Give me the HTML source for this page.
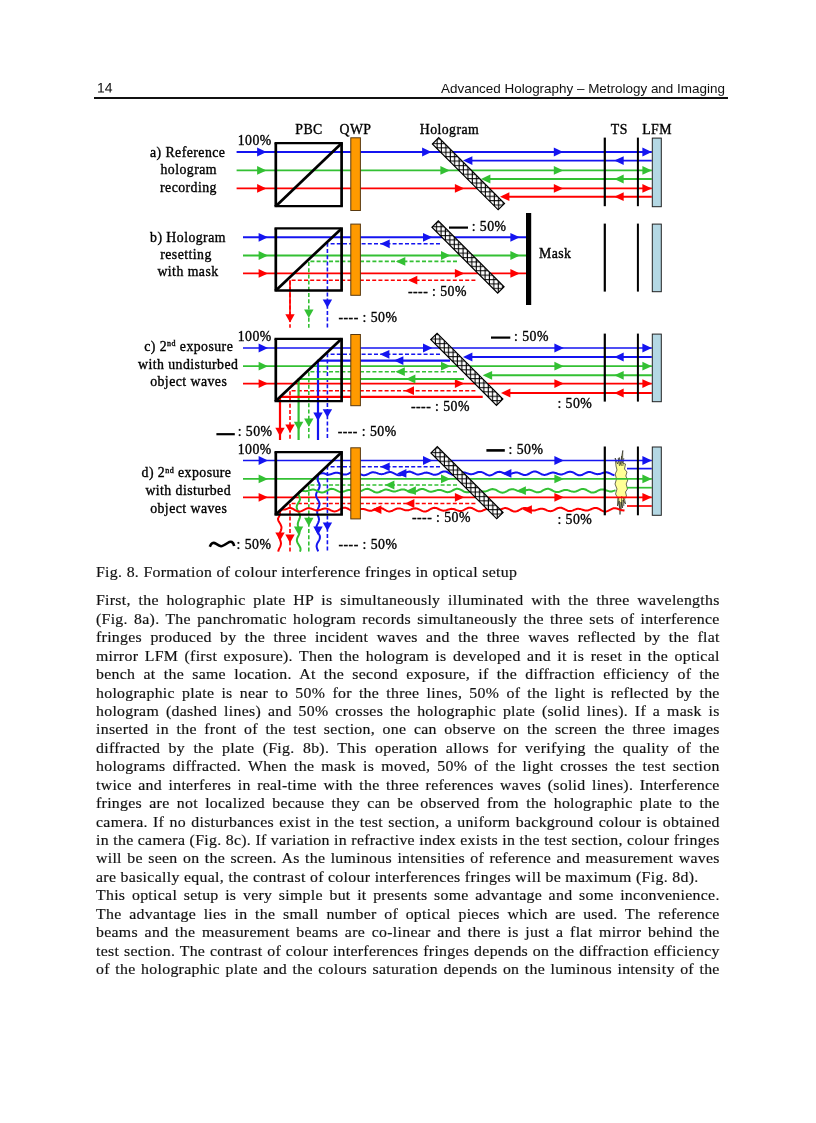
<!DOCTYPE html>
<html><head><meta charset="utf-8"><title>page 14</title>
<style>
html,body{margin:0;padding:0;background:#fff;}
body{width:816px;height:1123px;position:relative;overflow:hidden;font-family:"Liberation Serif",serif;color:#111;}
#cap,.ln{-webkit-text-stroke:0.18px #1a1a1a;}
.hd,#cap,.ln,#fig{will-change:transform;}
.hd{position:absolute;font-family:"Liberation Sans",sans-serif;font-size:13.45px;line-height:16px;color:#111;white-space:nowrap;}
#pn{left:96.5px;top:80.2px;font-size:27.8px;line-height:32px;transform:scale(0.5);transform-origin:0 0;}
#ht{right:91.5px;top:81.2px;}
#rule{position:absolute;left:93.6px;top:97.4px;width:634.4px;height:1.6px;background:#111;}
#fig{position:absolute;left:0;top:0;}
#fig text{font-family:"Liberation Serif",serif;fill:#000;stroke:#000;stroke-width:0.35px;letter-spacing:0.45px;}
#cap{position:absolute;left:96.0px;top:561.9px;font-size:14.4px;line-height:20px;white-space:nowrap;letter-spacing:0.29px;transform:scaleX(1.1);transform-origin:0 0;}
.ln{position:absolute;left:96.0px;width:567.0px;font-size:14.4px;line-height:20px;height:20px;white-space:nowrap;text-align:justify;text-align-last:justify;letter-spacing:0.27px;transform:scaleX(1.1);transform-origin:0 0;}
.last{text-align:left;text-align-last:left;}
</style></head><body>
<div class="hd" id="pn">14</div>
<div class="hd" id="ht">Advanced Holography – Metrology and Imaging</div>
<div id="rule"></div>
<svg id="fig" width="816" height="560" viewBox="0 0 816 560">
<defs><pattern id="hatch" width="4.4" height="4.4" patternUnits="userSpaceOnUse" patternTransform="rotate(45)"><rect width="4.4" height="4.4" fill="#fff"/><path d="M0,0.6 H4.4 M0.6,0 V4.4" stroke="#000" stroke-width="1.0"/></pattern></defs>
<line x1="236.6" y1="152.0" x2="651.8" y2="152.0" stroke="#1414f0" stroke-width="1.9"/>
<polygon points="266.5,152.0 257.1,147.6 257.1,156.4" fill="#1414f0"/>
<polygon points="563.2,152.0 553.8,147.6 553.8,156.4" fill="#1414f0"/>
<polygon points="651.8,152.0 642.4,147.6 642.4,156.4" fill="#1414f0"/>
<line x1="236.6" y1="170.4" x2="651.8" y2="170.4" stroke="#33c033" stroke-width="1.9"/>
<polygon points="266.5,170.4 257.1,166.0 257.1,174.8" fill="#33c033"/>
<polygon points="563.2,170.4 553.8,166.0 553.8,174.8" fill="#33c033"/>
<polygon points="651.8,170.4 642.4,166.0 642.4,174.8" fill="#33c033"/>
<line x1="236.6" y1="188.4" x2="651.8" y2="188.4" stroke="#ff0000" stroke-width="1.9"/>
<polygon points="266.5,188.4 257.1,184.0 257.1,192.8" fill="#ff0000"/>
<polygon points="563.2,188.4 553.8,184.0 553.8,192.8" fill="#ff0000"/>
<polygon points="651.8,188.4 642.4,184.0 642.4,192.8" fill="#ff0000"/>
<polygon points="431.5,152.0 422.1,147.6 422.1,156.4" fill="#1414f0"/>
<polygon points="449.8,170.4 440.4,166.0 440.4,174.8" fill="#33c033"/>
<polygon points="464.3,188.4 454.9,184.0 454.9,192.8" fill="#ff0000"/>
<line x1="466.0" y1="160.6" x2="651.8" y2="160.6" stroke="#1414f0" stroke-width="1.9"/>
<polygon points="463.0,160.6 472.4,156.2 472.4,165.0" fill="#1414f0"/>
<polygon points="614.3,160.6 623.7,156.2 623.7,165.0" fill="#1414f0"/>
<line x1="484.0" y1="179.0" x2="651.8" y2="179.0" stroke="#33c033" stroke-width="1.9"/>
<polygon points="481.0,179.0 490.4,174.6 490.4,183.4" fill="#33c033"/>
<polygon points="614.3,179.0 623.7,174.6 623.7,183.4" fill="#33c033"/>
<line x1="503.0" y1="196.7" x2="651.8" y2="196.7" stroke="#ff0000" stroke-width="1.9"/>
<polygon points="500.0,196.7 509.4,192.3 509.4,201.1" fill="#ff0000"/>
<polygon points="614.3,196.7 623.7,192.3 623.7,201.1" fill="#ff0000"/>
<line x1="274.5" y1="143.2" x2="342.9" y2="143.2" stroke="#000" stroke-width="2.3"/>
<line x1="274.5" y1="206.2" x2="342.9" y2="206.2" stroke="#000" stroke-width="2.3"/>
<line x1="275.8" y1="143.2" x2="275.8" y2="206.2" stroke="#000" stroke-width="2.7"/>
<line x1="341.6" y1="143.2" x2="341.6" y2="206.2" stroke="#000" stroke-width="2.7"/>
<line x1="275.8" y1="206.2" x2="341.6" y2="143.2" stroke="#000" stroke-width="2.7"/>
<rect x="350.8" y="137.8" width="9.6" height="72.7" fill="#ff9a00" stroke="#5a3a10" stroke-width="1"/>
<g transform="translate(468.45,173.7) rotate(45)"><rect x="-46.5" y="-4.5" width="93" height="9" fill="url(#hatch)" stroke="#000" stroke-width="1.2"/></g>
<line x1="604.8" y1="137.6" x2="604.8" y2="206.2" stroke="#000" stroke-width="2.2"/>
<line x1="637.9" y1="137.6" x2="637.9" y2="206.2" stroke="#000" stroke-width="2.0"/>
<rect x="652.3" y="138.1" width="9.0" height="68.6" fill="#b4d8e4" stroke="#222" stroke-width="1"/>
<text x="237.7" y="145.2" text-anchor="start" font-size="13.8">100%</text>
<text x="309.0" y="134.0" text-anchor="middle" font-size="13.8">PBC</text>
<text x="355.5" y="134.0" text-anchor="middle" font-size="13.8">QWP</text>
<text x="449.5" y="134.0" text-anchor="middle" font-size="13.8">Hologram</text>
<text x="619.3" y="134.0" text-anchor="middle" font-size="13.8">TS</text>
<text x="657.0" y="134.0" text-anchor="middle" font-size="13.8">LFM</text>
<text x="187.7" y="157.3" text-anchor="middle" font-size="13.8">a) Reference</text>
<text x="188.7" y="173.9" text-anchor="middle" font-size="13.8">hologram</text>
<text x="188.5" y="191.5" text-anchor="middle" font-size="13.8">recording</text>
<line x1="243.0" y1="237.3" x2="526.5" y2="237.3" stroke="#1414f0" stroke-width="1.9"/>
<polygon points="268.0,237.3 258.6,232.9 258.6,241.7" fill="#1414f0"/>
<polygon points="519.8,237.3 510.4,232.9 510.4,241.7" fill="#1414f0"/>
<line x1="243.0" y1="255.5" x2="526.5" y2="255.5" stroke="#33c033" stroke-width="1.9"/>
<polygon points="268.0,255.5 258.6,251.1 258.6,259.9" fill="#33c033"/>
<polygon points="519.8,255.5 510.4,251.1 510.4,259.9" fill="#33c033"/>
<line x1="243.0" y1="273.4" x2="526.5" y2="273.4" stroke="#ff0000" stroke-width="1.9"/>
<polygon points="268.0,273.4 258.6,269.0 258.6,277.8" fill="#ff0000"/>
<polygon points="519.8,273.4 510.4,269.0 510.4,277.8" fill="#ff0000"/>
<polygon points="432.4,237.3 423.0,232.9 423.0,241.7" fill="#1414f0"/>
<polygon points="450.4,255.5 441.0,251.1 441.0,259.9" fill="#33c033"/>
<polygon points="464.3,273.4 454.9,269.0 454.9,277.8" fill="#ff0000"/>
<path d="M440.0,243.8 L327.4,243.8 L327.4,327.8" stroke="#1414f0" stroke-width="1.6" fill="none" stroke-dasharray="4 2.2" stroke-linejoin="round"/>
<polygon points="380.3,243.8 389.7,239.4 389.7,248.2" fill="#1414f0"/>
<polygon points="327.4,307.8 322.7,299.4 332.1,299.4" fill="#1414f0"/>
<path d="M457.0,261.4 L308.8,261.4 L308.8,327.8" stroke="#33c033" stroke-width="1.6" fill="none" stroke-dasharray="4 2.2" stroke-linejoin="round"/>
<polygon points="395.9,261.4 405.3,257.0 405.3,265.8" fill="#33c033"/>
<polygon points="308.8,318.0 304.1,309.6 313.5,309.6" fill="#33c033"/>
<path d="M475.4,280.2 L290.0,280.2 L290.0,327.8" stroke="#ff0000" stroke-width="1.6" fill="none" stroke-dasharray="4 2.2" stroke-linejoin="round"/>
<line x1="290.0" y1="280.2" x2="290.0" y2="315.0" stroke="#ff0000" stroke-width="1.6"/>
<polygon points="407.9,280.2 417.3,275.8 417.3,284.6" fill="#ff0000"/>
<polygon points="290.0,322.6 285.3,314.2 294.7,314.2" fill="#ff0000"/>
<line x1="274.5" y1="228.4" x2="342.9" y2="228.4" stroke="#000" stroke-width="2.3"/>
<line x1="274.5" y1="290.5" x2="342.9" y2="290.5" stroke="#000" stroke-width="2.3"/>
<line x1="275.8" y1="228.4" x2="275.8" y2="290.5" stroke="#000" stroke-width="2.7"/>
<line x1="341.6" y1="228.4" x2="341.6" y2="290.5" stroke="#000" stroke-width="2.7"/>
<line x1="275.8" y1="290.5" x2="341.6" y2="228.4" stroke="#000" stroke-width="2.7"/>
<rect x="350.8" y="224.1" width="9.6" height="71.2" fill="#ff9a00" stroke="#5a3a10" stroke-width="1"/>
<g transform="translate(468.0,257.0) rotate(45)"><rect x="-46.5" y="-4.5" width="93" height="9" fill="url(#hatch)" stroke="#000" stroke-width="1.2"/></g>
<line x1="604.8" y1="223.6" x2="604.8" y2="291.6" stroke="#000" stroke-width="2.2"/>
<line x1="637.9" y1="223.6" x2="637.9" y2="291.6" stroke="#000" stroke-width="2.0"/>
<rect x="652.3" y="224.1" width="9.0" height="67.6" fill="#b4d8e4" stroke="#222" stroke-width="1"/>
<rect x="526.0" y="213.0" width="5.2" height="92" fill="#000"/>
<text x="539.0" y="258.0" text-anchor="start" font-size="13.8">Mask</text>
<line x1="449.0" y1="227.6" x2="468.0" y2="227.6" stroke="#000" stroke-width="2.2"/>
<text x="471.7" y="231.2" text-anchor="start" font-size="13.8">: 50%</text>
<text x="408.0" y="296.0" text-anchor="start" font-size="13.8">---- : 50%</text>
<text x="338.5" y="322.4" text-anchor="start" font-size="13.8">---- : 50%</text>
<text x="188.0" y="241.6" text-anchor="middle" font-size="13.8">b) Hologram</text>
<text x="186.0" y="258.9" text-anchor="middle" font-size="13.8">resetting</text>
<text x="188.0" y="275.8" text-anchor="middle" font-size="13.8">with mask</text>
<line x1="243.0" y1="348.0" x2="651.8" y2="348.0" stroke="#1414f0" stroke-width="1.7"/>
<polygon points="268.0,348.0 258.6,343.6 258.6,352.4" fill="#1414f0"/>
<polygon points="563.8,348.0 554.4,343.6 554.4,352.4" fill="#1414f0"/>
<polygon points="651.8,348.0 642.4,343.6 642.4,352.4" fill="#1414f0"/>
<line x1="243.0" y1="366.2" x2="651.8" y2="366.2" stroke="#33c033" stroke-width="1.7"/>
<polygon points="268.0,366.2 258.6,361.8 258.6,370.6" fill="#33c033"/>
<polygon points="563.8,366.2 554.4,361.8 554.4,370.6" fill="#33c033"/>
<polygon points="651.8,366.2 642.4,361.8 642.4,370.6" fill="#33c033"/>
<line x1="243.0" y1="383.6" x2="651.8" y2="383.6" stroke="#ff0000" stroke-width="1.7"/>
<polygon points="268.0,383.6 258.6,379.2 258.6,388.0" fill="#ff0000"/>
<polygon points="563.8,383.6 554.4,379.2 554.4,388.0" fill="#ff0000"/>
<polygon points="651.8,383.6 642.4,379.2 642.4,388.0" fill="#ff0000"/>
<polygon points="432.4,348.0 423.0,343.6 423.0,352.4" fill="#1414f0"/>
<polygon points="450.4,366.2 441.0,361.8 441.0,370.6" fill="#33c033"/>
<polygon points="464.3,383.6 454.9,379.2 454.9,388.0" fill="#ff0000"/>
<path d="M440.0,354.3 L327.4,354.3 L327.4,440" stroke="#1414f0" stroke-width="1.6" fill="none" stroke-dasharray="4 2.2" stroke-linejoin="round"/>
<polygon points="380.0,354.3 389.4,349.9 389.4,358.7" fill="#1414f0"/>
<polygon points="327.4,417.6 322.7,409.2 332.1,409.2" fill="#1414f0"/>
<path d="M457.0,371.7 L308.8,371.7 L308.8,440" stroke="#33c033" stroke-width="1.6" fill="none" stroke-dasharray="4 2.2" stroke-linejoin="round"/>
<polygon points="395.4,371.7 404.8,367.3 404.8,376.1" fill="#33c033"/>
<polygon points="308.8,426.8 304.1,418.4 313.5,418.4" fill="#33c033"/>
<path d="M475.4,390.7 L290.0,390.7 L290.0,440" stroke="#ff0000" stroke-width="1.6" fill="none" stroke-dasharray="4 2.2" stroke-linejoin="round"/>
<polygon points="404.6,390.7 414.0,386.3 414.0,395.1" fill="#ff0000"/>
<polygon points="290.0,432.8 285.3,424.4 294.7,424.4" fill="#ff0000"/>
<path d="M450.0,360.6 L318.0,360.6 L318.0,440" stroke="#1414f0" stroke-width="2.2" fill="none" stroke-linejoin="round"/>
<polygon points="394.0,360.6 403.4,356.2 403.4,365.0" fill="#1414f0"/>
<polygon points="318.0,421.0 313.3,412.6 322.7,412.6" fill="#1414f0"/>
<line x1="466.0" y1="357.0" x2="651.8" y2="357.0" stroke="#1414f0" stroke-width="1.9"/>
<polygon points="463.0,357.0 472.4,352.6 472.4,361.4" fill="#1414f0"/>
<polygon points="614.3,357.0 623.7,352.6 623.7,361.4" fill="#1414f0"/>
<path d="M464.0,379.0 L298.6,379.0 L298.6,440" stroke="#33c033" stroke-width="2.2" fill="none" stroke-linejoin="round"/>
<polygon points="406.0,379.0 415.4,374.6 415.4,383.4" fill="#33c033"/>
<polygon points="298.6,430.2 293.9,421.8 303.3,421.8" fill="#33c033"/>
<line x1="485.7" y1="375.3" x2="651.8" y2="375.3" stroke="#33c033" stroke-width="1.9"/>
<polygon points="482.7,375.3 492.1,370.9 492.1,379.7" fill="#33c033"/>
<polygon points="614.3,375.3 623.7,370.9 623.7,379.7" fill="#33c033"/>
<path d="M482.7,396.8 L280.0,396.8 L280.0,440" stroke="#ff0000" stroke-width="2.2" fill="none" stroke-linejoin="round"/>
<polygon points="280.0,436.2 275.3,427.8 284.7,427.8" fill="#ff0000"/>
<line x1="504.0" y1="393.0" x2="651.8" y2="393.0" stroke="#ff0000" stroke-width="1.9"/>
<polygon points="501.0,393.0 510.4,388.6 510.4,397.4" fill="#ff0000"/>
<polygon points="614.3,393.0 623.7,388.6 623.7,397.4" fill="#ff0000"/>
<line x1="274.5" y1="338.8" x2="342.9" y2="338.8" stroke="#000" stroke-width="2.3"/>
<line x1="274.5" y1="401.1" x2="342.9" y2="401.1" stroke="#000" stroke-width="2.3"/>
<line x1="275.8" y1="338.8" x2="275.8" y2="401.1" stroke="#000" stroke-width="2.7"/>
<line x1="341.6" y1="338.8" x2="341.6" y2="401.1" stroke="#000" stroke-width="2.7"/>
<line x1="275.8" y1="401.1" x2="341.6" y2="338.8" stroke="#000" stroke-width="2.7"/>
<rect x="350.8" y="334.5" width="9.6" height="71.2" fill="#ff9a00" stroke="#5a3a10" stroke-width="1"/>
<g transform="translate(466.8,369.3) rotate(45)"><rect x="-46.5" y="-4.5" width="93" height="9" fill="url(#hatch)" stroke="#000" stroke-width="1.2"/></g>
<line x1="604.8" y1="333.6" x2="604.8" y2="401.6" stroke="#000" stroke-width="2.2"/>
<line x1="637.9" y1="333.6" x2="637.9" y2="401.6" stroke="#000" stroke-width="2.0"/>
<rect x="652.3" y="334.1" width="9.0" height="67.6" fill="#b4d8e4" stroke="#222" stroke-width="1"/>
<text x="237.7" y="341.0" text-anchor="start" font-size="13.8">100%</text>
<line x1="491.0" y1="337.6" x2="510.3" y2="337.6" stroke="#000" stroke-width="2.2"/>
<text x="514.0" y="341.4" text-anchor="start" font-size="13.8">: 50%</text>
<text x="411.0" y="411.3" text-anchor="start" font-size="13.8">---- : 50%</text>
<text x="557.4" y="408.2" text-anchor="start" font-size="13.8">: 50%</text>
<line x1="216.4" y1="434.2" x2="234.8" y2="434.2" stroke="#000" stroke-width="2.2"/>
<text x="237.7" y="436.2" text-anchor="start" font-size="13.8">: 50%</text>
<text x="337.7" y="436.2" text-anchor="start" font-size="13.8">---- : 50%</text>
<text x="188.7" y="350.5" text-anchor="middle" font-size="13.8">c) 2<tspan font-size="8" dy="-4.5">nd</tspan><tspan dy="4.5"> exposure</tspan></text>
<text x="188.2" y="368.5" text-anchor="middle" font-size="13.8">with undisturbed</text>
<text x="188.7" y="386.4" text-anchor="middle" font-size="13.8">object waves</text>
<path d="M616,466 L615.2,458 L617.5,464 L619.3,457.5 L620.3,464.5 L622.8,450.5 L622.5,463 L625.5,464 L624.5,469 L627,472 L625.8,476 L627.8,480 L626.2,484 L627.5,489 L625.5,492 L626.5,496 L624.5,499 L625.5,504 L623,500 L622.5,508 L621,502 L620,514.5 L619.2,501 L617.5,506 L617.8,498 L615.5,494 L617,489 L615,484 L616.5,479 L615.2,474 L617,470 Z" fill="#ffff96" stroke="#2a2a20" stroke-width="0.7" stroke-linejoin="miter"/>
<path d="M618.2,458 L619.5,466 M621.5,456 L621.2,466 M623.8,458 L622.8,466 M618.5,497 L619.5,509 M621.8,496 L621.2,510 M623.5,497 L623.8,506" stroke="#2a2a20" stroke-width="0.7" fill="none"/>
<line x1="243.0" y1="460.5" x2="651.8" y2="460.5" stroke="#1414f0" stroke-width="1.7"/>
<polygon points="268.0,460.5 258.6,456.1 258.6,464.9" fill="#1414f0"/>
<polygon points="563.8,460.5 554.4,456.1 554.4,464.9" fill="#1414f0"/>
<polygon points="651.8,460.5 642.4,456.1 642.4,464.9" fill="#1414f0"/>
<line x1="243.0" y1="478.9" x2="651.8" y2="478.9" stroke="#33c033" stroke-width="1.7"/>
<polygon points="268.0,478.9 258.6,474.5 258.6,483.3" fill="#33c033"/>
<polygon points="563.8,478.9 554.4,474.5 554.4,483.3" fill="#33c033"/>
<polygon points="651.8,478.9 642.4,474.5 642.4,483.3" fill="#33c033"/>
<line x1="243.0" y1="497.3" x2="651.8" y2="497.3" stroke="#ff0000" stroke-width="1.7"/>
<polygon points="268.0,497.3 258.6,492.9 258.6,501.7" fill="#ff0000"/>
<polygon points="563.8,497.3 554.4,492.9 554.4,501.7" fill="#ff0000"/>
<polygon points="651.8,497.3 642.4,492.9 642.4,501.7" fill="#ff0000"/>
<polygon points="432.4,460.5 423.0,456.1 423.0,464.9" fill="#1414f0"/>
<polygon points="450.4,478.9 441.0,474.5 441.0,483.3" fill="#33c033"/>
<polygon points="464.3,497.3 454.9,492.9 454.9,501.7" fill="#ff0000"/>
<path d="M440.0,466.8 L327.4,466.8 L327.4,552" stroke="#1414f0" stroke-width="1.6" fill="none" stroke-dasharray="4 2.2" stroke-linejoin="round"/>
<polygon points="380.3,466.8 389.7,462.4 389.7,471.2" fill="#1414f0"/>
<polygon points="327.4,530.8 322.7,522.4 332.1,522.4" fill="#1414f0"/>
<path d="M457.0,485.0 L308.8,485.0 L308.8,552" stroke="#33c033" stroke-width="1.6" fill="none" stroke-dasharray="4 2.2" stroke-linejoin="round"/>
<polygon points="385.0,485.0 394.4,480.6 394.4,489.4" fill="#33c033"/>
<polygon points="308.8,526.2 304.1,517.8 313.5,517.8" fill="#33c033"/>
<path d="M475.4,503.5 L290.0,503.5 L290.0,552" stroke="#ff0000" stroke-width="1.6" fill="none" stroke-dasharray="4 2.2" stroke-linejoin="round"/>
<polygon points="405.0,503.5 414.4,499.1 414.4,507.9" fill="#ff0000"/>
<polygon points="290.0,543.0 285.3,534.6 294.7,534.6" fill="#ff0000"/>
<path d="M614.5,475.2 L613.5,475.0 L612.5,474.6 L611.5,474.2 L610.5,473.7 L609.5,473.2 L608.5,472.8 L607.5,472.5 L606.5,472.3 L605.5,472.3 L604.5,472.4 L603.5,472.7 L602.5,473.0 L601.5,473.4 L600.5,473.7 L599.5,474.0 L598.5,474.1 L597.5,474.2 L596.5,474.0 L595.5,473.8 L594.5,473.5 L593.5,473.1 L592.5,472.7 L591.5,472.4 L590.5,472.1 L589.5,472.0 L588.5,472.1 L587.5,472.3 L586.5,472.7 L585.5,473.2 L584.5,473.7 L583.5,474.2 L582.5,474.7 L581.5,475.1 L580.5,475.3 L579.5,475.3 L578.5,475.2 L577.5,474.8 L576.5,474.4 L575.5,473.8 L574.5,473.2 L573.5,472.7 L572.5,472.2 L571.5,471.9 L570.5,471.7 L569.5,471.7 L568.5,471.9 L567.5,472.2 L566.5,472.6 L565.5,473.1 L564.5,473.6 L563.5,473.9 L562.5,474.2 L561.5,474.4 L560.5,474.4 L559.5,474.2 L558.5,474.0 L557.5,473.7 L556.5,473.3 L555.5,473.0 L554.5,472.8 L553.5,472.6 L552.5,472.6 L551.5,472.8 L550.5,473.0 L549.5,473.4 L548.5,473.8 L547.5,474.2 L546.5,474.5 L545.5,474.8 L544.5,474.9 L543.5,474.8 L542.5,474.6 L541.5,474.2 L540.5,473.7 L539.5,473.2 L538.5,472.6 L537.5,472.1 L536.5,471.7 L535.5,471.5 L534.5,471.5 L533.5,471.6 L532.5,471.9 L531.5,472.4 L530.5,472.9 L529.5,473.5 L528.5,474.0 L527.5,474.5 L526.5,474.8 L525.5,475.0 L524.5,475.0 L523.5,474.9 L522.5,474.5 L521.5,474.1 L520.5,473.7 L519.5,473.3 L518.5,472.9 L517.5,472.6 L516.5,472.5 L515.5,472.5 L514.5,472.7 L513.5,472.9 L512.5,473.2 L511.5,473.6 L510.5,473.9 L509.5,474.1 L508.5,474.3 L507.5,474.2 L506.5,474.1 L505.5,473.8 L504.5,473.4 L503.5,473.0 L502.5,472.6 L501.5,472.2 L500.5,471.9 L499.5,471.8 L498.5,471.9 L497.5,472.1 L496.5,472.5 L495.5,473.0 L494.5,473.5 L493.5,474.1 L492.5,474.6 L491.5,475.0 L490.5,475.3 L489.5,475.4 L488.5,475.2 L487.5,474.9 L486.5,474.5 L485.5,474.0 L484.5,473.4 L483.5,472.9 L482.5,472.4 L481.5,472.1 L480.5,471.9 L479.5,471.9 L478.5,472.0 L477.5,472.3 L476.5,472.7 L475.5,473.1 L474.5,473.5 L473.5,473.9 L472.5,474.1 L471.5,474.2 L470.5,474.2 L469.5,474.0 L468.5,473.8 L467.5,473.4 L466.5,473.1 L465.5,472.8 L464.5,472.6 L463.5,472.5 L462.5,472.5 L461.5,472.7 L460.5,473.0 L459.5,473.4 L458.5,473.8 L457.5,474.3 L456.5,474.7 L455.5,474.9 L454.5,475.1 L453.5,475.0 L452.5,474.8 L451.5,474.4 L450.5,473.9 L449.5,473.4 L448.5,472.8 L447.5,472.2 L446.5,471.8 L445.5,471.6 L444.5,471.5 L443.5,471.5 L442.5,471.8 L441.5,472.2 L440.5,472.7 L439.5,473.3 L438.5,473.8 L437.5,474.3 L436.5,474.6 L435.5,474.8 L434.5,474.8 L433.5,474.7 L432.5,474.4 L431.5,474.0 L430.5,473.6 L429.5,473.3 L428.5,472.9 L427.5,472.7 L426.5,472.6 L425.5,472.7 L424.5,472.8 L423.5,473.1 L422.5,473.5 L421.5,473.8 L420.5,474.1 L419.5,474.3 L418.5,474.4 L417.5,474.4 L416.5,474.2 L415.5,473.9 L414.5,473.4 L413.5,473.0 L412.5,472.5 L411.5,472.1 L410.5,471.8 L409.5,471.6 L408.5,471.7 L407.5,471.9 L406.5,472.3 L405.5,472.8 L404.5,473.3 L403.5,473.9 L402.5,474.5 L401.5,474.9 L400.5,475.2 L399.5,475.3 L398.5,475.2 L397.5,475.0 L396.5,474.6 L395.5,474.1 L394.5,473.6 L393.5,473.1 L392.5,472.6 L391.5,472.3 L390.5,472.1 L389.5,472.1 L388.5,472.2 L387.5,472.5 L386.5,472.8 L385.5,473.2 L384.5,473.6 L383.5,473.9 L382.5,474.1 L381.5,474.2 L380.5,474.1 L379.5,473.9 L378.5,473.6 L377.5,473.2 L376.5,472.9 L375.5,472.6 L374.5,472.4 L373.5,472.3 L372.5,472.3 L371.5,472.5 L370.5,472.9 L369.5,473.3 L368.5,473.8 L367.5,474.3 L366.5,474.7 L365.5,475.1 L364.5,475.2 L363.5,475.2 L362.5,475.0 L361.5,474.6 L360.5,474.2 L359.5,473.6 L358.5,473.0 L357.5,472.4 L356.5,472.0 L355.5,471.7 L354.5,471.5 L353.5,471.6 L352.5,471.8 L351.5,472.2 L350.5,472.6 L349.5,473.2 L348.5,473.7 L347.5,474.1 L346.5,474.4 L345.5,474.6 L344.5,474.6 L343.5,474.5 L342.5,474.2 L341.5,473.9 L340.5,473.5 L339.5,473.2 L338.5,472.9 L337.5,472.7 L336.5,472.7 L335.5,472.8 L334.5,473.0 L333.5,473.3 L332.5,473.6 L331.5,474.0 L330.5,474.3 L329.5,474.6 L328.5,474.7 L327.5,474.6 L326.5,474.3 L325.5,473.9 L324.5,473.5 L323.5,473.2 L322.5,473.2 L321.5,473.3 L321.0,473.4 L320.2,473.5 L319.5,473.8 L318.9,474.3 L318.4,474.9 L318.1,475.6 L318.0,476.4 L317.8,477.4 L317.7,478.4 L317.7,479.4 L317.8,480.4 L318.1,481.4 L318.6,482.4 L319.1,483.4 L319.4,484.4 L319.6,485.4 L319.6,486.4 L319.4,487.4 L319.1,488.4 L318.6,489.4 L317.9,490.4 L317.3,491.4 L316.8,492.4 L316.3,493.4 L316.1,494.4 L316.1,495.4 L316.2,496.4 L316.6,497.4 L317.1,498.4 L317.7,499.4 L318.3,500.4 L318.8,501.4 L319.2,502.4 L319.4,503.4 L319.5,504.4 L319.3,505.4 L319.0,506.4 L318.6,507.4 L318.2,508.4 L317.8,509.4 L317.4,510.4 L317.2,511.4 L317.2,512.4 L317.3,513.4 L317.6,514.4 L317.9,515.4 L318.3,516.4 L318.6,517.4 L318.9,518.4 L319.0,519.4 L318.9,520.4 L318.7,521.4 L318.4,522.4 L317.9,523.4 L317.4,524.4 L316.9,525.4 L316.6,526.4 L316.3,527.4 L316.3,528.4 L316.4,529.4 L316.8,530.4 L317.3,531.4 L317.9,532.4 L318.5,533.4 L319.1,534.4 L319.6,535.4 L319.9,536.4 L319.9,537.4 L319.8,538.4 L319.5,539.4 L319.0,540.4 L318.4,541.4 L317.8,542.4 L317.3,543.4 L316.9,544.4 L316.7,545.4 L316.6,546.4 L316.8,547.4 L317.0,548.4 L317.4,549.4 L317.8,550.4 L318.2,551.4" stroke="#1414f0" stroke-width="2.0" fill="none" stroke-linejoin="round"/>
<polygon points="318.0,535.0 313.3,526.6 322.7,526.6" fill="#1414f0"/>
<polygon points="502.0,473.4 511.4,469.0 511.4,477.8" fill="#1414f0"/>
<polygon points="397.0,473.4 406.4,469.0 406.4,477.8" fill="#1414f0"/>
<line x1="627.0" y1="468.6" x2="651.8" y2="468.6" stroke="#1414f0" stroke-width="1.7"/>
<path d="M615.5,490.2 L614.5,490.6 L613.5,490.9 L612.5,491.2 L611.5,491.4 L610.5,491.5 L609.5,491.4 L608.5,491.1 L607.5,490.8 L606.5,490.5 L605.5,490.1 L604.5,489.7 L603.5,489.5 L602.5,489.4 L601.5,489.4 L600.5,489.6 L599.5,490.0 L598.5,490.4 L597.5,490.9 L596.5,491.5 L595.5,492.0 L594.5,492.3 L593.5,492.6 L592.5,492.6 L591.5,492.5 L590.5,492.2 L589.5,491.7 L588.5,491.2 L587.5,490.6 L586.5,490.0 L585.5,489.5 L584.5,489.2 L583.5,489.0 L582.5,489.0 L581.5,489.1 L580.5,489.4 L579.5,489.9 L578.5,490.3 L577.5,490.8 L576.5,491.2 L575.5,491.5 L574.5,491.7 L573.5,491.7 L572.5,491.6 L571.5,491.4 L570.5,491.1 L569.5,490.7 L568.5,490.4 L567.5,490.1 L566.5,489.9 L565.5,489.9 L564.5,490.0 L563.5,490.3 L562.5,490.6 L561.5,491.0 L560.5,491.4 L559.5,491.8 L558.5,492.0 L557.5,492.1 L556.5,492.1 L555.5,491.9 L554.5,491.5 L553.5,491.1 L552.5,490.5 L551.5,490.0 L550.5,489.5 L549.5,489.1 L548.5,488.8 L547.5,488.8 L546.5,488.9 L545.5,489.2 L544.5,489.6 L543.5,490.1 L542.5,490.7 L541.5,491.3 L540.5,491.8 L539.5,492.1 L538.5,492.3 L537.5,492.3 L536.5,492.2 L535.5,491.9 L534.5,491.5 L533.5,491.1 L532.5,490.6 L531.5,490.2 L530.5,490.0 L529.5,489.8 L528.5,489.8 L527.5,489.9 L526.5,490.1 L525.5,490.5 L524.5,490.8 L523.5,491.1 L522.5,491.4 L521.5,491.5 L520.5,491.5 L519.5,491.4 L518.5,491.1 L517.5,490.8 L516.5,490.4 L515.5,489.9 L514.5,489.6 L513.5,489.3 L512.5,489.2 L511.5,489.2 L510.5,489.4 L509.5,489.7 L508.5,490.2 L507.5,490.8 L506.5,491.3 L505.5,491.9 L504.5,492.3 L503.5,492.6 L502.5,492.7 L501.5,492.6 L500.5,492.3 L499.5,491.9 L498.5,491.4 L497.5,490.8 L496.5,490.2 L495.5,489.7 L494.5,489.4 L493.5,489.2 L492.5,489.1 L491.5,489.3 L490.5,489.5 L489.5,489.9 L488.5,490.3 L487.5,490.8 L486.5,491.1 L485.5,491.4 L484.5,491.5 L483.5,491.5 L482.5,491.4 L481.5,491.1 L480.5,490.8 L479.5,490.5 L478.5,490.2 L477.5,489.9 L476.5,489.8 L475.5,489.8 L474.5,490.0 L473.5,490.2 L472.5,490.6 L471.5,491.1 L470.5,491.5 L469.5,491.9 L468.5,492.2 L467.5,492.3 L466.5,492.3 L465.5,492.1 L464.5,491.8 L463.5,491.3 L462.5,490.7 L461.5,490.1 L460.5,489.6 L459.5,489.2 L458.5,488.9 L457.5,488.8 L456.5,488.8 L455.5,489.1 L454.5,489.5 L453.5,490.0 L452.5,490.5 L451.5,491.1 L450.5,491.5 L449.5,491.9 L448.5,492.1 L447.5,492.2 L446.5,492.0 L445.5,491.8 L444.5,491.4 L443.5,491.0 L442.5,490.6 L441.5,490.3 L440.5,490.0 L439.5,489.9 L438.5,489.9 L437.5,490.1 L436.5,490.4 L435.5,490.7 L434.5,491.0 L433.5,491.3 L432.5,491.6 L431.5,491.7 L430.5,491.7 L429.5,491.5 L428.5,491.2 L427.5,490.8 L426.5,490.3 L425.5,489.9 L424.5,489.5 L423.5,489.1 L422.5,489.0 L421.5,489.0 L420.5,489.2 L419.5,489.5 L418.5,490.0 L417.5,490.6 L416.5,491.2 L415.5,491.7 L414.5,492.2 L413.5,492.5 L412.5,492.6 L411.5,492.6 L410.5,492.3 L409.5,492.0 L408.5,491.5 L407.5,491.0 L406.5,490.4 L405.5,490.0 L404.5,489.6 L403.5,489.4 L402.5,489.4 L401.5,489.5 L400.5,489.7 L399.5,490.1 L398.5,490.4 L397.5,490.8 L396.5,491.1 L395.5,491.4 L394.5,491.5 L393.5,491.4 L392.5,491.2 L391.5,491.0 L390.5,490.6 L389.5,490.3 L388.5,489.9 L387.5,489.7 L386.5,489.6 L385.5,489.6 L384.5,489.8 L383.5,490.1 L382.5,490.6 L381.5,491.0 L380.5,491.5 L379.5,492.0 L378.5,492.3 L377.5,492.5 L376.5,492.5 L375.5,492.3 L374.5,492.0 L373.5,491.5 L372.5,490.9 L371.5,490.4 L370.5,489.8 L369.5,489.3 L368.5,489.0 L367.5,488.8 L366.5,488.9 L365.5,489.1 L364.5,489.4 L363.5,489.9 L362.5,490.4 L361.5,490.9 L360.5,491.3 L359.5,491.7 L358.5,491.9 L357.5,491.9 L356.5,491.8 L355.5,491.6 L354.5,491.3 L353.5,490.9 L352.5,490.5 L351.5,490.2 L350.5,490.0 L349.5,490.0 L348.5,490.0 L347.5,490.2 L346.5,490.5 L345.5,490.9 L344.5,491.2 L343.5,491.6 L342.5,491.8 L341.5,491.9 L340.5,491.9 L339.5,491.7 L338.5,491.4 L337.5,490.9 L336.5,490.4 L335.5,489.9 L334.5,489.4 L333.5,489.1 L332.5,488.9 L331.5,488.8 L330.5,489.0 L329.5,489.3 L328.5,489.8 L327.5,490.3 L326.5,490.9 L325.5,491.5 L324.5,492.0 L323.5,492.3 L322.5,492.5 L321.5,492.5 L320.5,492.3 L319.5,492.0 L318.5,491.5 L317.5,491.1 L316.5,490.6 L315.5,490.1 L314.5,489.8 L313.5,489.6 L312.5,489.6 L311.5,489.7 L310.5,489.9 L309.5,490.2 L308.5,490.6 L307.5,490.9 L306.5,491.1 L305.5,491.2 L304.5,491.1 L303.5,490.9 L302.5,490.8 L301.6,490.7 L300.8,490.8 L300.1,491.1 L299.5,491.6 L299.0,492.2 L298.7,492.9 L298.6,493.7 L298.7,494.7 L299.0,495.7 L299.3,496.7 L299.7,497.7 L299.9,498.7 L300.0,499.7 L299.6,500.7 L299.0,501.7 L298.4,502.7 L297.8,503.7 L297.3,504.7 L296.9,505.7 L296.7,506.7 L296.7,507.7 L296.9,508.7 L297.3,509.7 L297.9,510.7 L298.4,511.7 L299.0,512.7 L299.5,513.7 L299.9,514.7 L300.0,515.7 L300.0,516.7 L299.8,517.7 L299.5,518.7 L299.1,519.7 L298.6,520.7 L298.3,521.7 L298.0,522.7 L297.8,523.7 L297.8,524.7 L298.0,525.7 L298.3,526.7 L298.6,527.7 L299.0,528.7 L299.3,529.7 L299.6,530.7 L299.6,531.7 L299.5,532.7 L299.3,533.7 L298.9,534.7 L298.4,535.7 L297.9,536.7 L297.4,537.7 L297.1,538.7 L296.9,539.7 L296.9,540.7 L297.1,541.7 L297.5,542.7 L298.1,543.7 L298.7,544.7 L299.3,545.7 L299.8,546.7 L300.3,547.7 L300.5,548.7 L300.5,549.7 L300.3,550.7 L299.9,551.7" stroke="#33c033" stroke-width="2.0" fill="none" stroke-linejoin="round"/>
<polygon points="298.6,535.0 293.9,526.6 303.3,526.6" fill="#33c033"/>
<polygon points="516.5,490.7 525.9,486.3 525.9,495.1" fill="#33c033"/>
<polygon points="406.5,490.7 415.9,486.3 415.9,495.1" fill="#33c033"/>
<line x1="627.0" y1="487.7" x2="651.8" y2="487.7" stroke="#33c033" stroke-width="1.7"/>
<path d="M624.5,510.3 L623.5,510.4 L622.5,510.3 L621.5,510.2 L620.5,509.9 L619.5,509.5 L618.5,509.1 L617.5,508.7 L616.5,508.4 L615.5,508.2 L614.5,508.2 L613.5,508.3 L612.5,508.6 L611.5,509.1 L610.5,509.6 L609.5,510.1 L608.5,510.6 L607.5,511.1 L606.5,511.4 L605.5,511.5 L604.5,511.5 L603.5,511.3 L602.5,510.9 L601.5,510.4 L600.5,509.8 L599.5,509.2 L598.5,508.7 L597.5,508.3 L596.5,508.0 L595.5,507.9 L594.5,508.0 L593.5,508.2 L592.5,508.6 L591.5,509.0 L590.5,509.5 L589.5,509.9 L588.5,510.3 L587.5,510.5 L586.5,510.6 L585.5,510.5 L584.5,510.3 L583.5,510.0 L582.5,509.7 L581.5,509.4 L580.5,509.1 L579.5,508.9 L578.5,508.8 L577.5,508.8 L576.5,509.0 L575.5,509.4 L574.5,509.7 L573.5,510.2 L572.5,510.6 L571.5,510.9 L570.5,511.1 L569.5,511.1 L568.5,511.0 L567.5,510.7 L566.5,510.2 L565.5,509.7 L564.5,509.2 L563.5,508.6 L562.5,508.2 L561.5,507.8 L560.5,507.7 L559.5,507.7 L558.5,507.9 L557.5,508.3 L556.5,508.7 L555.5,509.3 L554.5,509.9 L553.5,510.4 L552.5,510.8 L551.5,511.1 L550.5,511.2 L549.5,511.1 L548.5,510.9 L547.5,510.6 L546.5,510.2 L545.5,509.7 L544.5,509.3 L543.5,509.0 L542.5,508.8 L541.5,508.7 L540.5,508.8 L539.5,509.0 L538.5,509.3 L537.5,509.6 L536.5,509.9 L535.5,510.2 L534.5,510.4 L533.5,510.5 L532.5,510.4 L531.5,510.2 L530.5,509.8 L529.5,509.4 L528.5,509.0 L527.5,508.6 L526.5,508.3 L525.5,508.0 L524.5,508.0 L523.5,508.1 L522.5,508.4 L521.5,508.8 L520.5,509.4 L519.5,509.9 L518.5,510.5 L517.5,511.0 L516.5,511.3 L515.5,511.5 L514.5,511.5 L513.5,511.4 L512.5,511.0 L511.5,510.5 L510.5,510.0 L509.5,509.4 L508.5,508.9 L507.5,508.5 L506.5,508.2 L505.5,508.1 L504.5,508.1 L503.5,508.4 L502.5,508.7 L501.5,509.1 L500.5,509.5 L499.5,509.9 L498.5,510.2 L497.5,510.4 L496.5,510.4 L495.5,510.3 L494.5,510.1 L493.5,509.8 L492.5,509.5 L491.5,509.1 L490.5,508.9 L489.5,508.7 L488.5,508.6 L487.5,508.7 L486.5,509.0 L485.5,509.3 L484.5,509.8 L483.5,510.2 L482.5,510.7 L481.5,511.0 L480.5,511.2 L479.5,511.3 L478.5,511.2 L477.5,510.9 L476.5,510.5 L475.5,509.9 L474.5,509.4 L473.5,508.8 L472.5,508.3 L471.5,507.9 L470.5,507.7 L469.5,507.7 L468.5,507.8 L467.5,508.2 L466.5,508.6 L465.5,509.1 L464.5,509.7 L463.5,510.2 L462.5,510.6 L461.5,510.9 L460.5,511.0 L459.5,511.0 L458.5,510.8 L457.5,510.4 L456.5,510.1 L455.5,509.7 L454.5,509.3 L453.5,509.0 L452.5,508.9 L451.5,508.8 L450.5,508.9 L449.5,509.2 L448.5,509.5 L447.5,509.8 L446.5,510.2 L445.5,510.4 L444.5,510.6 L443.5,510.7 L442.5,510.5 L441.5,510.3 L440.5,509.9 L439.5,509.5 L438.5,509.0 L437.5,508.5 L436.5,508.1 L435.5,507.9 L434.5,507.8 L433.5,507.9 L432.5,508.2 L431.5,508.6 L430.5,509.2 L429.5,509.7 L428.5,510.3 L427.5,510.8 L426.5,511.2 L425.5,511.5 L424.5,511.5 L423.5,511.4 L422.5,511.1 L421.5,510.6 L420.5,510.1 L419.5,509.6 L418.5,509.1 L417.5,508.7 L416.5,508.4 L415.5,508.3 L414.5,508.4 L413.5,508.5 L412.5,508.8 L411.5,509.2 L410.5,509.6 L409.5,509.9 L408.5,510.2 L407.5,510.3 L406.5,510.3 L405.5,510.2 L404.5,510.0 L403.5,509.6 L402.5,509.3 L401.5,508.9 L400.5,508.6 L399.5,508.5 L398.5,508.4 L397.5,508.6 L396.5,508.8 L395.5,509.2 L394.5,509.7 L393.5,510.2 L392.5,510.7 L391.5,511.1 L390.5,511.3 L389.5,511.4 L388.5,511.4 L387.5,511.1 L386.5,510.7 L385.5,510.2 L384.5,509.6 L383.5,509.0 L382.5,508.5 L381.5,508.1 L380.5,507.8 L379.5,507.7 L378.5,507.9 L377.5,508.1 L376.5,508.6 L375.5,509.0 L374.5,509.5 L373.5,510.0 L372.5,510.4 L371.5,510.7 L370.5,510.8 L369.5,510.7 L368.5,510.5 L367.5,510.3 L366.5,509.9 L365.5,509.5 L364.5,509.2 L363.5,509.0 L362.5,508.9 L361.5,508.9 L360.5,509.0 L359.5,509.3 L358.5,509.6 L357.5,510.0 L356.5,510.4 L355.5,510.7 L354.5,510.8 L353.5,510.9 L352.5,510.7 L351.5,510.5 L350.5,510.1 L349.5,509.6 L348.5,509.0 L347.5,508.5 L346.5,508.1 L345.5,507.8 L344.5,507.7 L343.5,507.8 L342.5,508.0 L341.5,508.4 L340.5,508.9 L339.5,509.5 L338.5,510.1 L337.5,510.6 L336.5,511.0 L335.5,511.3 L334.5,511.4 L333.5,511.3 L332.5,511.0 L331.5,510.6 L330.5,510.2 L329.5,509.7 L328.5,509.2 L327.5,508.9 L326.5,508.6 L325.5,508.5 L324.5,508.6 L323.5,508.8 L322.5,509.0 L321.5,509.4 L320.5,509.7 L319.5,510.0 L318.5,510.3 L317.5,510.4 L316.5,510.3 L315.5,510.2 L314.5,509.9 L313.5,509.5 L312.5,509.1 L311.5,508.7 L310.5,508.4 L309.5,508.2 L308.5,508.2 L307.5,508.3 L306.5,508.6 L305.5,509.1 L304.5,509.6 L303.5,510.1 L302.5,510.6 L301.5,511.1 L300.5,511.4 L299.5,511.5 L298.5,511.5 L297.5,511.3 L296.5,510.9 L295.5,510.4 L294.5,509.8 L293.5,509.2 L292.5,508.7 L291.5,508.3 L290.5,508.0 L289.5,507.9 L288.5,508.1 L287.5,508.6 L286.5,509.0 L285.5,509.4 L284.5,509.6 L283.5,509.6 L283.0,509.6 L282.2,509.7 L281.5,510.0 L280.9,510.5 L280.4,511.1 L280.1,511.8 L280.0,512.6 L280.0,513.6 L279.9,514.6 L279.5,515.6 L279.0,516.6 L278.5,517.6 L278.0,518.6 L278.1,519.6 L278.4,520.6 L278.8,521.6 L279.4,522.6 L280.0,523.6 L280.6,524.6 L281.0,525.6 L281.4,526.6 L281.5,527.6 L281.4,528.6 L281.2,529.6 L280.9,530.6 L280.4,531.6 L280.0,532.6 L279.6,533.6 L279.3,534.6 L279.2,535.6 L279.2,536.6 L279.4,537.6 L279.7,538.6 L280.1,539.6 L280.4,540.6 L280.7,541.6 L280.9,542.6 L281.0,543.6 L280.8,544.6 L280.6,545.6 L280.2,546.6 L279.7,547.6 L279.2,548.6 L278.8,549.6 L278.4,550.6 L278.3,551.6" stroke="#ff0000" stroke-width="2.0" fill="none" stroke-linejoin="round"/>
<polygon points="280.0,540.8 275.3,532.4 284.7,532.4" fill="#ff0000"/>
<polygon points="522.5,509.6 531.9,505.2 531.9,514.0" fill="#ff0000"/>
<polygon points="372.0,509.6 381.4,505.2 381.4,514.0" fill="#ff0000"/>
<line x1="627.0" y1="506.0" x2="651.8" y2="506.0" stroke="#ff0000" stroke-width="1.7"/>
<line x1="274.5" y1="452.2" x2="342.9" y2="452.2" stroke="#000" stroke-width="2.3"/>
<line x1="274.5" y1="514.6" x2="342.9" y2="514.6" stroke="#000" stroke-width="2.3"/>
<line x1="275.8" y1="452.2" x2="275.8" y2="514.6" stroke="#000" stroke-width="2.7"/>
<line x1="341.6" y1="452.2" x2="341.6" y2="514.6" stroke="#000" stroke-width="2.7"/>
<line x1="275.8" y1="514.6" x2="341.6" y2="452.2" stroke="#000" stroke-width="2.7"/>
<rect x="350.8" y="447.8" width="9.6" height="71.1" fill="#ff9a00" stroke="#5a3a10" stroke-width="1"/>
<g transform="translate(467.0,482.7) rotate(45)"><rect x="-46.5" y="-4.5" width="93" height="9" fill="url(#hatch)" stroke="#000" stroke-width="1.2"/></g>
<line x1="604.8" y1="446.5" x2="604.8" y2="515.3" stroke="#000" stroke-width="2.2"/>
<line x1="637.9" y1="446.5" x2="637.9" y2="515.3" stroke="#000" stroke-width="2.0"/>
<rect x="652.3" y="447.0" width="9.0" height="68.3" fill="#b4d8e4" stroke="#222" stroke-width="1"/>
<text x="237.7" y="453.9" text-anchor="start" font-size="13.8">100%</text>
<line x1="486.4" y1="450.4" x2="504.8" y2="450.4" stroke="#000" stroke-width="2.6"/>
<text x="508.5" y="454.3" text-anchor="start" font-size="13.8">: 50%</text>
<text x="412.0" y="522.4" text-anchor="start" font-size="13.8">---- : 50%</text>
<text x="557.4" y="524.0" text-anchor="start" font-size="13.8">: 50%</text>
<path d="M209.8,546.8 Q212,541.2 215.8,543.6 T221,546.2 T227.6,543 T234.2,546" stroke="#000" stroke-width="2.6" fill="none" stroke-linejoin="round"/>
<text x="236.6" y="548.8" text-anchor="start" font-size="13.8">: 50%</text>
<text x="338.5" y="548.8" text-anchor="start" font-size="13.8">---- : 50%</text>
<text x="186.5" y="477.3" text-anchor="middle" font-size="13.8">d) 2<tspan font-size="8" dy="-4.5">nd</tspan><tspan dy="4.5"> exposure</tspan></text>
<text x="188.2" y="494.7" text-anchor="middle" font-size="13.8">with disturbed</text>
<text x="188.7" y="512.5" text-anchor="middle" font-size="13.8">object waves</text>
</svg>
<div id="cap">Fig. 8. Formation of colour interference fringes in optical setup</div>
<div class="ln" style="top:590.44px;">First, the holographic plate HP is simultaneously illuminated with the three wavelengths</div>
<div class="ln" style="top:608.87px;">(Fig. 8a). The panchromatic hologram records simultaneously the three sets of interference</div>
<div class="ln" style="top:627.30px;">fringes produced by the three incident waves and the three waves reflected by the flat</div>
<div class="ln" style="top:645.73px;">mirror LFM (first exposure). Then the hologram is developed and it is reset in the optical</div>
<div class="ln" style="top:664.16px;">bench at the same location. At the second exposure, if the diffraction efficiency of the</div>
<div class="ln" style="top:682.59px;">holographic plate is near to 50% for the three lines, 50% of the light is reflected by the</div>
<div class="ln" style="top:701.02px;">hologram (dashed lines) and 50% crosses the holographic plate (solid lines). If a mask is</div>
<div class="ln" style="top:719.45px;">inserted in the front of the test section, one can observe on the screen the three images</div>
<div class="ln" style="top:737.88px;">diffracted by the plate (Fig. 8b). This operation allows for verifying the quality of the</div>
<div class="ln" style="top:756.31px;">holograms diffracted. When the mask is moved, 50% of the light crosses the test section</div>
<div class="ln" style="top:774.74px;">twice and interferes in real-time with the three references waves (solid lines). Interference</div>
<div class="ln" style="top:793.17px;">fringes are not localized because they can be observed from the holographic plate to the</div>
<div class="ln" style="top:811.60px;">camera. If no disturbances exist in the test section, a uniform background colour is obtained</div>
<div class="ln" style="top:830.03px;">in the camera (Fig. 8c). If variation in refractive index exists in the test section, colour fringes</div>
<div class="ln" style="top:848.46px;">will be seen on the screen. As the luminous intensities of reference and measurement waves</div>
<div class="ln last" style="top:866.89px;letter-spacing:0.29px;">are basically equal, the contrast of colour interferences fringes will be maximum (Fig. 8d).</div>
<div class="ln" style="top:885.32px;">This optical setup is very simple but it presents some advantage and some inconvenience.</div>
<div class="ln" style="top:903.75px;">The advantage lies in the small number of optical pieces which are used. The reference</div>
<div class="ln" style="top:922.18px;">beams and the measurement beams are co-linear and there is just a flat mirror behind the</div>
<div class="ln" style="top:940.61px;">test section. The contrast of colour interferences fringes depends on the diffraction efficiency</div>
<div class="ln" style="top:959.04px;">of the holographic plate and the colours saturation depends on the luminous intensity of the</div>
</body></html>
